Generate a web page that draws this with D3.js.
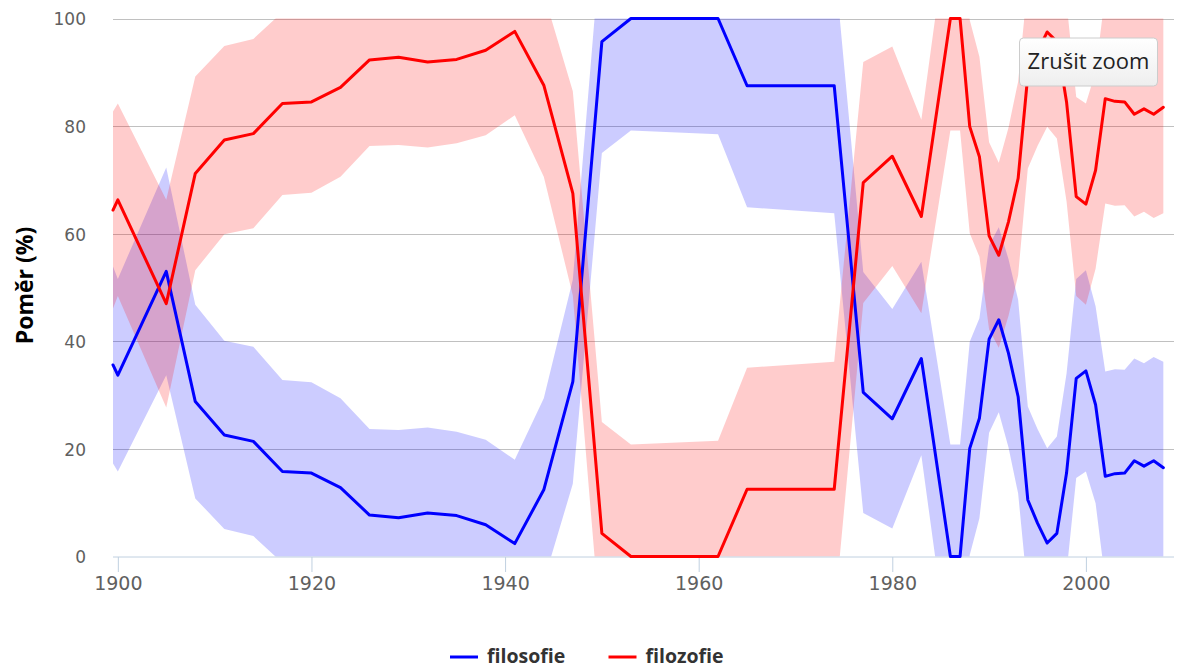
<!DOCTYPE html>
<html>
<head>
<meta charset="utf-8">
<script src="https://cdn.jsdelivr.net/npm/d3@7/dist/d3.min.js"></script>
<style>
  html, body { margin: 0; padding: 0; background: #fff; }
  svg { display: block; }
</style>
</head>
<body>
<svg id="chart" width="1178" height="669"></svg>
<script>
// ---- data ----
const years = [1899.5, 1900, 1905, 1908, 1911, 1914, 1917, 1920, 1923, 1926, 1929, 1932, 1935, 1938, 1941, 1944, 1947, 1950, 1953, 1962, 1965, 1974, 1977, 1980, 1983, 1986, 1987, 1988, 1989, 1990, 1991, 1992, 1993, 1994, 1995, 1996, 1997, 1998, 1999, 2000, 2001, 2002, 2003, 2004, 2005, 2006, 2007, 2008];
const filosofie = [35.6, 33.7, 53.0, 28.8, 22.6, 21.4, 15.8, 15.5, 12.8, 7.7, 7.2, 8.1, 7.6, 5.9, 2.4, 12.4, 32.5, 95.7, 100, 100, 87.5, 87.5, 30.5, 25.6, 36.8, 0, 0, 20.1, 25.7, 40.4, 44.0, 37.8, 29.7, 10.5, 6.2, 2.5, 4.3, 15.5, 33.1, 34.5, 28.2, 14.9, 15.4, 15.5, 17.8, 16.8, 17.8, 16.5];
const filozofie = [64.4, 66.3, 47.0, 71.2, 77.4, 78.6, 84.2, 84.5, 87.2, 92.3, 92.8, 91.9, 92.4, 94.1, 97.6, 87.6, 67.5, 4.3, 0, 0, 12.5, 12.5, 69.5, 74.4, 63.2, 100, 100, 79.9, 74.3, 59.6, 56.0, 62.2, 70.3, 89.5, 93.8, 97.5, 95.7, 84.5, 66.9, 65.5, 71.8, 85.1, 84.6, 84.5, 82.2, 83.2, 82.2, 83.5];
// half-width of the confidence band (same for both series)
const bandMargin = [18.3, 17.9, 19.3, 18.0, 17.5, 17.6, 17.0, 16.9, 16.6, 16.0, 16.3, 15.9, 15.6, 15.8, 15.6, 17.0, 19.0, 20.7, 20.8, 21.5, 22.6, 23.7, 22.4, 20.4, 18.0, 20.8, 20.8, 19.8, 18.6, 17.4, 17.2, 17.5, 18.0, 17.4, 17.5, 17.6, 18.0, 18.5, 18.5, 18.7, 18.3, 19.5, 19.4, 19.2, 19.0, 19.1, 19.3, 19.7];
const xTicks = [1900, 1920, 1940, 1960, 1980, 2000];
const yTicks = [0, 20, 40, 60, 80, 100];
const seriesNames = ["filosofie", "filozofie"];
const seriesColors = ["#0000ff", "#ff0000"];
const bandColors = ["rgba(0,0,255,0.2)", "rgba(255,0,0,0.2)"];
const yTitle = "Poměr (%)";
const resetLabel = "Zrušit zoom";

// ---- layout ----
const plot = { left: 113, right: 1174, top: 18.5, bottom: 556.5 };
const svg = d3.select("#chart");

const x = d3.scaleLinear().domain([1899.5, 2009.1]).range([plot.left, plot.right]);
const y = d3.scaleLinear().domain([0, 100]).range([plot.bottom, plot.top]);

const labelFont = "'DejaVu Sans', Verdana, sans-serif";
const uiFont = "'Open Sans', 'Segoe UI', sans-serif";

// clip for bands
svg.append("defs").append("clipPath").attr("id", "plotClip")
  .append("rect")
  .attr("x", plot.left).attr("y", plot.top)
  .attr("width", plot.right - plot.left).attr("height", plot.bottom - plot.top);

// gridlines
const yAxis = d3.axisLeft(y).tickValues(yTicks).tickSize(-(plot.right - plot.left)).tickPadding(27);
const gy = svg.append("g").attr("transform", `translate(${plot.left},0)`).call(yAxis);
gy.select(".domain").remove();
gy.selectAll(".tick line").attr("stroke", "#c0c0c0").attr("stroke-width", 1)
  .attr("shape-rendering", "crispEdges")
  .filter(d => d === 0).remove();
gy.selectAll(".tick text")
  .attr("fill", "#606060").attr("font-family", labelFont).attr("font-size", "17px")
  .attr("dy", "0.38em");

// data rows
const rows = years.map((yr, i) => ({ yr, v: [filosofie[i], filozofie[i]], m: bandMargin[i] }));

// bands
const bandsG = svg.append("g").attr("clip-path", "url(#plotClip)");
[0, 1].forEach(s => {
  const area = d3.area()
    .x(d => x(d.yr))
    .y0(d => y(d.v[s] - d.m))
    .y1(d => y(d.v[s] + d.m));
  bandsG.append("path").datum(rows)
    .attr("d", area)
    .attr("fill", bandColors[s]);
});

// x axis
const xAxis = d3.axisBottom(x).tickValues(xTicks).tickFormat(d3.format("d")).tickSize(15).tickPadding(5);
const gx = svg.append("g").attr("transform", `translate(0,${plot.bottom + 0.5})`).call(xAxis);
gx.select(".domain").attr("stroke", "#c0d0e0").attr("d", `M${plot.left},0H${plot.right}`);
gx.selectAll(".tick line").attr("stroke", "#c0d0e0");
gx.selectAll(".tick text")
  .attr("fill", "#606060").attr("font-family", labelFont).attr("font-size", "19px");

// lines
[0, 1].forEach(s => {
  const line = d3.line().x(d => x(d.yr)).y(d => y(d.v[s]));
  svg.append("path").datum(rows)
    .attr("d", line)
    .attr("fill", "none")
    .attr("stroke", seriesColors[s])
    .attr("stroke-width", 3)
    .attr("stroke-linejoin", "round")
    .attr("stroke-linecap", "round");
});

// y title
svg.append("text")
  .attr("transform", `translate(33,${(plot.top + plot.bottom) / 2 - 2}) rotate(-90)`)
  .attr("text-anchor", "middle")
  .attr("font-family", uiFont).attr("font-weight", "bold").attr("font-size", "23px")
  .attr("fill", "#000")
  .text(yTitle);

// legend
const legend = svg.append("g");
const legendX = [450, 608.5];
seriesNames.forEach((name, i) => {
  legend.append("line")
    .attr("x1", legendX[i]).attr("x2", legendX[i] + 28)
    .attr("y1", 657).attr("y2", 657)
    .attr("stroke", seriesColors[i]).attr("stroke-width", 3);
  legend.append("text")
    .attr("x", legendX[i] + 37).attr("y", 663)
    .attr("font-family", uiFont).attr("font-weight", "bold").attr("font-size", "19.5px")
    .attr("fill", "#333")
    .text(name);
});

// reset zoom button
const grad = svg.select("defs").append("linearGradient").attr("id", "btnGrad")
  .attr("x1", 0).attr("y1", 0).attr("x2", 0).attr("y2", 1);
grad.append("stop").attr("offset", "0%").attr("stop-color", "#ffffff");
grad.append("stop").attr("offset", "100%").attr("stop-color", "#eeeeee");
const btn = svg.append("g");
btn.append("rect")
  .attr("x", 1019.5).attr("y", 38).attr("width", 138).attr("height", 48).attr("rx", 4)
  .attr("fill", "url(#btnGrad)").attr("stroke", "#cccccc").attr("stroke-width", 1);
btn.append("text")
  .attr("x", 1088.5).attr("y", 68.5).attr("text-anchor", "middle")
  .attr("font-family", uiFont).attr("font-size", "22px").attr("fill", "#222")
  .text(resetLabel);
</script>
</body>
</html>
